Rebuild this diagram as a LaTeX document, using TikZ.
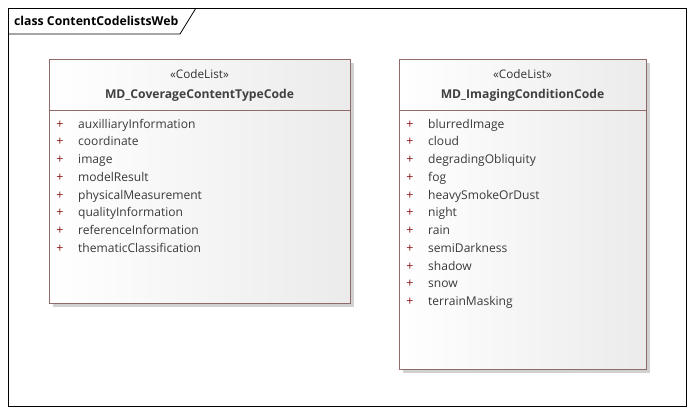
\documentclass[tikz,border=0pt]{standalone}
\usepackage{fontspec}
\setmainfont{Open Sans}
\begin{document}
\begin{tikzpicture}[x=1bp,y=-1bp,
  umlbox/.style={draw=boxline, line width=0.9bp, left color=white, right color=boxright},
  shadowbox/.style={fill=black!18, draw=none},
  stereo/.style={font=\fontsize{11.8}{13}\selectfont, text=black!80, anchor=base, inner sep=0},
  cname/.style={font=\fontsize{12.2}{14}\selectfont\bfseries, text=black!75, anchor=base, inner sep=0},
  plus/.style={font=\fontsize{12.5}{13}\selectfont, text=plusred, anchor=base, inner sep=0},
  attr/.style={font=\fontsize{12.1}{13}\selectfont, text=attrcol, anchor=base west, inner sep=0},
  frame/.style={draw=black, line width=0.8bp}
]
\definecolor{boxline}{HTML}{8E6A6A}
\definecolor{boxright}{HTML}{EBEBEB}
\definecolor{plusred}{HTML}{8B1A1A}
\definecolor{attrcol}{HTML}{3A3A3A}
\useasboundingbox (0,0) rectangle (694,414);
\fill[white] (0,0) rectangle (694,414);
% frame
\draw[frame] (8,8) rectangle (686,406);
\draw[frame] (8,34) -- (180,34) -- (196,8);
\node[font=\fontsize{12.3}{14}\selectfont\bfseries, anchor=base west, inner sep=0] (title) at (14,25) {class ContentCodelistsWeb};

% box 1
\fill[shadowbox] (53,63) rectangle (354,307);
\draw[umlbox] (49,59) rectangle (350,303);
\draw[draw=boxline, line width=0.9bp] (49,110) -- (350,110);
\node[stereo] (s1) at (199.5,78) {«CodeList»};
\node[cname] (n1) at (199.5,98) {MD\_CoverageContentTypeCode};
\foreach \t [count=\i] in {auxilliaryInformation,coordinate,image,modelResult,physicalMeasurement,qualityInformation,referenceInformation,thematicClassification}{
  \node[plus] (p1\i) at (60,{128+(\i-1)*17.75}) {+};
  \node[attr] (a1\i) at (78,{128+(\i-1)*17.75}) {\t};
}

% box 2
\fill[shadowbox] (403,63) rectangle (650,373);
\draw[umlbox] (399,59) rectangle (646,369);
\draw[draw=boxline, line width=0.9bp] (399,110) -- (646,110);
\node[stereo] (s2) at (522.5,78) {«CodeList»};
\node[cname] (n2) at (522.5,98) {MD\_ImagingConditionCode};
\foreach \t [count=\i] in {blurredImage,cloud,degradingObliquity,fog,heavySmokeOrDust,night,rain,semiDarkness,shadow,snow,terrainMasking}{
  \node[plus] (p2\i) at (410,{128+(\i-1)*17.75}) {+};
  \node[attr] (a2\i) at (428,{128+(\i-1)*17.75}) {\t};
}
\end{tikzpicture}
\end{document}
